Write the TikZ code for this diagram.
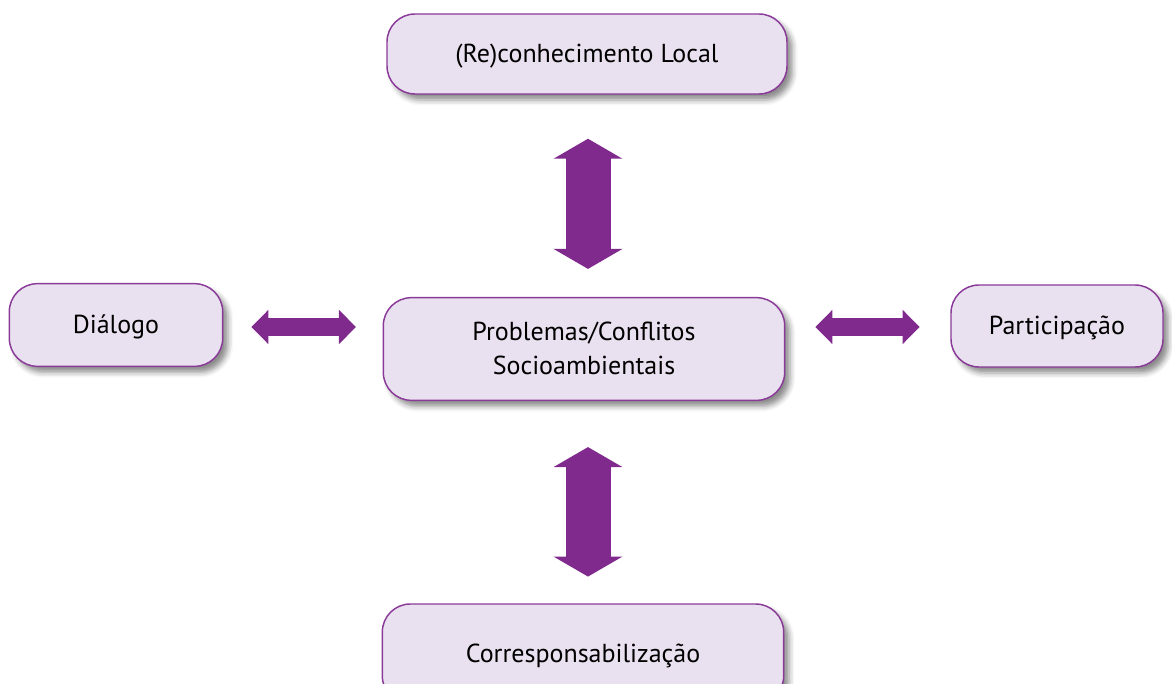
\documentclass[tikz,border=0pt]{standalone}
\usepackage{fontspec}
\setmainfont{PT Sans}
\usepackage{tikz}
\usetikzlibrary{arrows.meta,positioning,shadows.blur}
\definecolor{lilas}{RGB}{234,225,240}
\definecolor{roxo}{RGB}{138,58,152}
\definecolor{seta}{RGB}{128,42,142}
\tikzset{caixa/.style={draw=roxo,line width=1.1pt,fill=lilas,rounded corners=21pt,
           align=center,font=\fontsize{19.5}{25.5}\selectfont,text depth=1pt,
           blur shadow={shadow xshift=4pt,shadow yshift=-4.5pt,shadow blur radius=4pt,shadow opacity=45}},
         setav/.style={seta,line width=33.75pt,{Triangle[width=51pt,length=15pt]}-{Triangle[width=51pt,length=15pt]}},
         setah/.style={seta,line width=13pt,{Triangle[width=25pt,length=12.75pt]}-{Triangle[width=25pt,length=12.75pt]}}}

\begin{document}
\begin{tikzpicture}[x=0.75pt,y=-0.75pt]
            \useasboundingbox (0,0) rectangle (1172,684);
            \node[caixa,minimum width=300pt,minimum height=60pt] (rec) at (587,54) {(Re)conhecimento Local};
            \node[caixa,minimum width=301pt,minimum height=77pt] (prob) at (584,349) {Problemas/Conflitos\\Socioambientais};
            \node[caixa,minimum width=160pt,minimum height=62pt] (dial) at (116,325) {Diálogo};
            \node[caixa,minimum width=159pt,minimum height=61.5pt] (part) at (1057,326) {Participação};
            \node[caixa,minimum width=301pt,minimum height=75pt] (cor) at (583,654) {Corresponsabilização};
            \draw[setav,shorten <=33pt,shorten >=21pt] (rec.south -| 588,0) -- (prob.north -| 588,0);
            \draw[setav,shorten <=34.5pt,shorten >=20pt] (prob.south -| 588,0) -- (cor.north -| 588,0);
            \draw[setah,shorten <=21pt,shorten >=20pt] (dial.east |- 0,327) -- (prob.west |- 0,327);
            \draw[setah,shorten <=22.5pt,shorten >=23pt] (prob.east |- 0,327) -- (part.west |- 0,327);
        \end{tikzpicture}
\end{document}
